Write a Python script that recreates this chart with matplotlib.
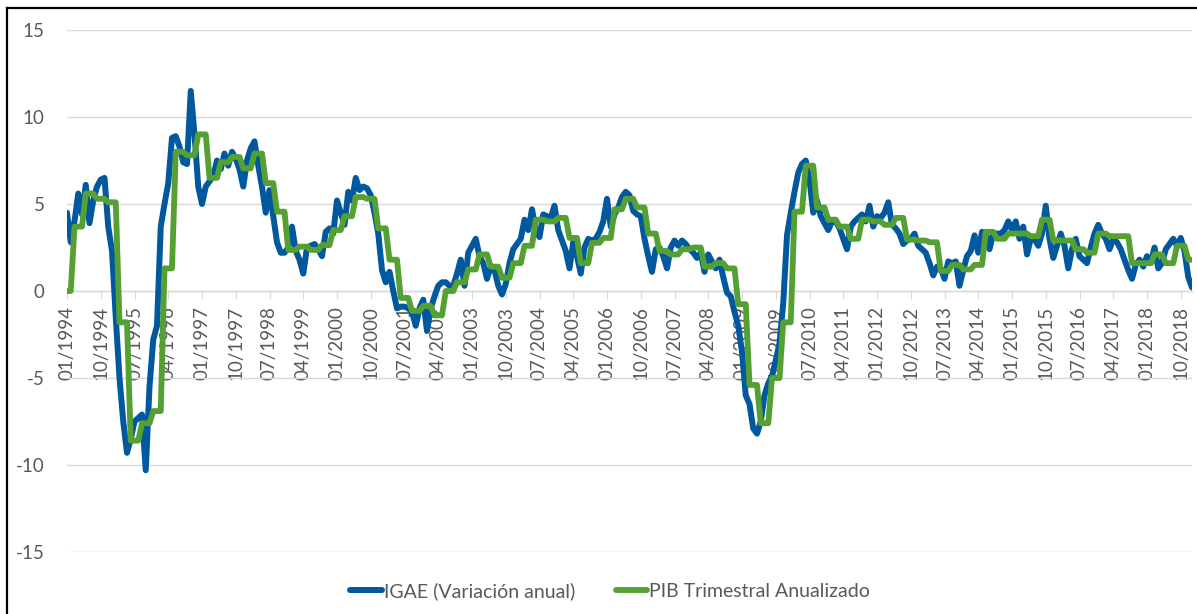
import numpy as np
import matplotlib.pyplot as plt
from matplotlib.lines import Line2D

# IGAE, variacion anual mensual (01/1994 - 01/2019)
igae = [
    4.5, 2.8, 4.0, 5.6, 4.4, 6.1, 3.9, 5.2, 6.0, 6.4, 6.5, 3.7,          # 1994
    2.3, -1.5, -5.0, -7.5, -9.3, -8.5, -7.5, -7.3, -7.1, -10.3, -5.5, -2.8,  # 1995
    -2.0, 3.7, 5.0, 6.2, 8.8, 8.9, 8.3, 7.4, 7.3, 11.5, 9.0, 6.0,        # 1996
    5.0, 6.0, 6.3, 6.6, 7.5, 7.0, 7.9, 7.2, 8.0, 7.6, 7.0, 6.0,          # 1997
    7.5, 8.2, 8.6, 7.2, 6.0, 4.5, 5.8, 4.3, 2.8, 2.2, 2.2, 2.5,          # 1998
    3.7, 2.3, 1.8, 1.0, 2.5, 2.6, 2.7, 2.4, 2.0, 3.4, 3.6, 3.3,          # 1999
    5.2, 4.5, 3.8, 5.7, 5.2, 6.5, 5.8, 6.0, 5.9, 5.5, 4.5, 3.3,          # 2000
    1.2, 0.5, 1.1, 0.0, -1.0, -0.9, -0.9, -1.0, -1.2, -2.0, -1.0, -0.5,  # 2001
    -2.3, -1.0, -0.3, 0.3, 0.5, 0.5, 0.3, 0.3, 1.0, 1.8, 0.3, 2.2,       # 2002
    2.6, 3.0, 2.0, 1.6, 0.7, 1.4, 1.2, 0.3, -0.2, 0.4, 1.6, 2.4,         # 2003
    2.7, 3.0, 4.1, 3.5, 4.7, 3.5, 3.1, 4.4, 4.3, 4.2, 4.9, 3.5,          # 2004
    2.9, 2.3, 1.3, 2.8, 2.0, 1.0, 2.5, 3.0, 2.9, 3.0, 3.4, 4.0,          # 2005
    5.3, 3.7, 4.4, 4.8, 5.4, 5.7, 5.5, 4.6, 4.4, 4.3, 3.0, 2.0,          # 2006
    1.1, 2.4, 2.5, 2.0, 1.3, 2.5, 2.9, 2.6, 2.9, 2.7, 2.4, 2.2,          # 2007
    1.9, 2.2, 1.1, 2.1, 1.7, 1.3, 1.8, 0.8, -0.1, -0.3, -1.2, -2.0,      # 2008
    -3.5, -6.0, -6.5, -7.9, -8.2, -7.5, -6.0, -5.3, -4.9, -4.0, -3.0, -0.7,  # 2009
    3.2, 4.5, 5.7, 6.8, 7.3, 7.5, 6.4, 4.5, 5.2, 4.3, 3.9, 3.5,          # 2010
    4.0, 4.0, 3.6, 3.0, 2.4, 3.7, 4.0, 4.2, 4.4, 4.0, 4.9, 3.7,          # 2011
    4.3, 4.2, 4.5, 5.1, 3.8, 3.6, 3.3, 2.7, 2.9, 3.0, 3.3, 2.6,          # 2012
    2.4, 2.2, 1.6, 0.9, 1.4, 1.3, 0.7, 1.7, 1.6, 1.7, 0.3, 1.2,          # 2013
    2.0, 2.3, 3.2, 2.2, 3.4, 3.3, 2.4, 3.3, 3.3, 3.3, 3.5, 4.0,          # 2014
    3.5, 4.0, 3.0, 3.7, 2.1, 3.0, 3.0, 2.6, 3.3, 4.9, 3.0, 1.9,          # 2015
    2.6, 3.3, 2.6, 1.3, 2.4, 3.0, 2.0, 1.8, 1.6, 2.5, 3.3, 3.8,          # 2016
    3.3, 3.0, 2.4, 3.0, 2.8, 2.4, 1.8, 1.2, 0.7, 1.5, 1.8, 1.4,          # 2017
    2.0, 1.6, 2.5, 1.3, 1.6, 2.4, 2.7, 3.0, 2.6, 3.05, 2.3, 0.8,         # 2018
    0.2,                                                                  # 2019
]

# PIB trimestral anualizado, 1994T1 - 2018T4
pib_trimestral = [
    3.7, 5.6, 5.3, 5.1, -1.8, -8.6, -7.6, -6.9, 1.3, 8.0,
    7.8, 9.0, 6.5, 7.4, 7.7, 7.05, 7.9, 6.2, 4.56, 2.36,
    2.55, 2.36, 2.64, 3.5, 4.3, 5.4, 5.3, 3.6, 1.8, -0.4,
    -1.14, -0.86, -1.4, 0.0, 0.5, 1.24, 2.1, 1.4, 0.76, 1.6,
    2.6, 4.1, 4.0, 4.2, 3.05, 1.6, 2.77, 3.05, 4.7, 5.3,
    4.8, 3.3, 2.3, 2.1, 2.4, 2.5, 1.4, 1.6, 1.3, -0.76,
    -5.4, -7.6, -5.0, -1.8, 4.56, 7.2, 4.8, 4.1, 3.7, 3.0,
    4.1, 4.0, 3.8, 4.2, 2.95, 2.9, 2.8, 1.15, 1.5, 1.24,
    1.5, 3.4, 3.0, 3.3, 3.3, 3.15, 4.1, 2.9, 2.9, 2.4,
    2.2, 3.3, 3.15, 3.15, 1.6, 1.6, 2.1, 1.6, 2.6, 1.8,
]
pib_inicio = [0.0, 0.0]  # ene-feb 1994 sin dato

etiquetas_x = [
    "01/1994", "10/1994", "07/1995", "04/1996", "01/1997", "10/1997",
    "07/1998", "04/1999", "01/2000", "10/2000", "07/2001", "04/2002",
    "01/2003", "10/2003", "07/2004", "04/2005", "01/2006", "10/2006",
    "07/2007", "04/2008", "01/2009", "10/2009", "07/2010", "04/2011",
    "01/2012", "10/2012", "07/2013", "04/2014", "01/2015", "10/2015",
    "07/2016", "04/2017", "01/2018", "10/2018",
]

nombres = ["IGAE (Variación anual)", "PIB Trimestral Anualizado"]
colores = ["#00589E", "#55A033"]

x = np.arange(len(igae))
pib = np.concatenate([pib_inicio, np.repeat(pib_trimestral, 3)])[:len(igae)]

plt.rcParams['font.family'] = ['Lato', 'DejaVu Sans']
plt.rcParams['axes.unicode_minus'] = False

W, H = 1197, 614
fig = plt.figure(figsize=(W / 100, H / 100), dpi=100)
ax = fig.add_axes([67 / W, 1 - 552 / H, (1192 - 67) / W, (552 - 30) / H])

ax.plot(x, igae, color=colores[0], lw=4.3, solid_joinstyle='round',
        solid_capstyle='round', label=nombres[0], zorder=3)
ax.plot(x, pib, color=colores[1], lw=4.2, solid_joinstyle='round',
        solid_capstyle='round', label=nombres[1], zorder=4)

ax.set_xlim(0, len(igae) - 1)
ax.set_ylim(-15, 15)
ax.set_yticks(np.arange(-15, 16, 5))
ax.yaxis.grid(True, color='#d9d9d9', lw=1)
ax.set_axisbelow(True)

for s in ['left', 'right', 'top']:
    ax.spines[s].set_visible(False)
ax.spines['bottom'].set_position(('data', 0))
ax.spines['bottom'].set_color('#d9d9d9')
ax.spines['bottom'].set_linewidth(1)

ax.set_xticks(np.arange(0, 9 * len(etiquetas_x), 9))
ax.set_xticklabels(etiquetas_x, rotation=90)
ax.tick_params(axis='x', length=6, color='#d9d9d9', pad=5,
               labelsize=13.5, labelcolor='#595959')
ax.tick_params(axis='y', length=0, pad=16, labelsize=13.5, labelcolor='#595959')

# borde del grafico
fig.add_artist(Line2D([7 / W, 7 / W], [0, 1 - 8 / H], color='black', lw=1.6))
fig.add_artist(Line2D([7 / W, 1], [1 - 8 / H, 1 - 8 / H], color='black', lw=1.6))

h, l = ax.get_legend_handles_labels()
fig.legend(h, l, loc='center', bbox_to_anchor=(610 / W, 1 - 591 / H), ncol=2,
           frameon=False, fontsize=14, handlelength=1.6, handletextpad=0.1,
           columnspacing=2.1, labelcolor='#595959')

fig.savefig('out.png', dpi=100)
